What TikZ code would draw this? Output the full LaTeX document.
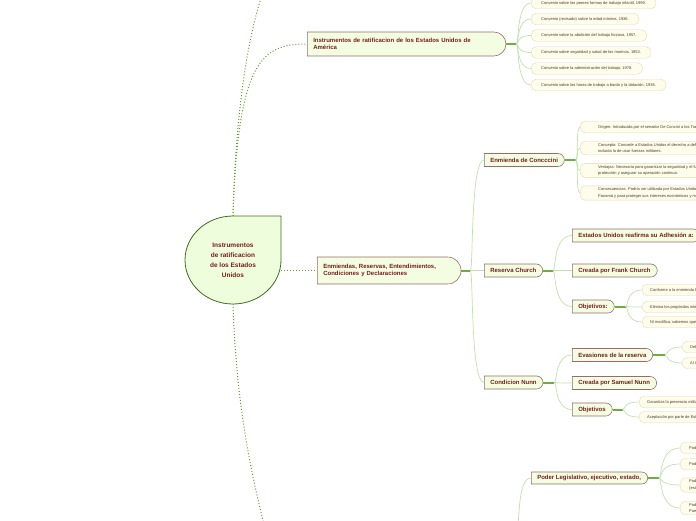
\documentclass[tikz,border=0pt]{standalone}
\usepackage{fontspec}
\setmainfont{Liberation Sans}
\usetikzlibrary{positioning,shapes.misc,calc}
\definecolor{rootfill}{HTML}{EEFDDC}
\definecolor{rootline}{HTML}{3F6E22}
\definecolor{topicfill}{HTML}{F2FDE2}
\definecolor{topicline}{HTML}{9A6B6A}
\definecolor{topictext}{HTML}{7A1E1E}
\definecolor{leaffill}{HTML}{FEFCEA}
\definecolor{leafline}{HTML}{E6DBB4}
\definecolor{leaftext}{HTML}{4E3B2A}
\definecolor{stemgreen}{HTML}{6FAE3C}
\definecolor{twiggreen}{HTML}{C2DFAC}
\definecolor{dotgreen}{HTML}{5E9E2E}

\tikzset{
  rootbox/.style={minimum width=96pt, minimum height=88pt, align=center, text=topictext, font=\bfseries\fontsize{6.5}{10}\selectfont},
  topic/.style={rounded rectangle, rounded rectangle left arc=none, draw=topicline, line width=0.6pt, fill=topicfill, text=topictext, font=\bfseries\fontsize{6}{7.6}\selectfont, align=left, anchor=west, inner xsep=6pt, inner ysep=2pt, minimum height=13pt},
  leaf/.style={draw=leafline, fill=leaffill, rounded corners=5pt, text=leaftext, font=\fontsize{4}{6.6}\selectfont, align=left, anchor=west, inner xsep=10pt, inner ysep=2pt, minimum height=11.5pt},
  stem/.style={draw=stemgreen, line width=2pt},
  twig/.style={draw=twiggreen, line width=0.7pt, to path={.. controls ([xshift=3pt]\tikztostart) and (\tikztostart |- \tikztotarget) .. (\tikztotarget)}},
  dotlink/.style={draw=dotgreen, line width=1pt, dotted},
}

\begin{document}
\begin{tikzpicture}[x=1pt, y=-1pt]
  \clip (0,0) rectangle (696,520);

  % central topic
  \draw[draw=rootline, fill=rootfill, line width=0.8pt] (233,216) -- (281,216) -- (281,260) arc[start angle=0, end angle=-270, x radius=48pt, y radius=44pt] -- cycle;
  \node[rootbox] (root) at (233,260) {Instrumentos\\de ratificacion\\de los Estados\\Unidos};

  % main branches
  \node[topic, text width=185pt, minimum height=24pt] (instr) at (307,44) {Instrumentos de ratificacion de los Estados Unidos de\\Am\'erica};
  \node[topic, text width=130pt, minimum height=27pt] (enm) at (317,270.5) {Enmiendas, Reservas, Entendimientos,\\Condiciones y Declaraciones};
  \coordinate (upper) at (263,-8);
  \coordinate (lower) at (265,528);
  \coordinate (lowhub) at (517,526);

  \draw[dotlink] (root.north) .. controls (236,100) and (250,30) .. (upper);
  \draw[dotlink] (root.north) .. controls (238,60) and (262,44) .. (instr.west);
  \draw[dotlink] (root.east |- enm.west) -- (enm.west);
  \draw[dotlink] (root.south) .. controls (236,400) and (250,470) .. (lower);

  % convenios
  \coordinate (jI) at ([xshift=10pt]instr.east);
  \node[leaf] (a1) at (531,3) {Convenio sobre las peores formas de trabajo infantil, 1999.};
  \node[leaf] (a2) at (531,19) {Convenio (revisado) sobre la edad m\'inima, 1936.};
  \node[leaf] (a3) at (531,35.5) {Convenio sobre la abolici\'on del trabajo forzoso, 1957.};
  \node[leaf] (a4) at (531,52.5) {Convenio sobre seguridad y salud de los marinos, 1953.};
  \node[leaf] (a5) at (531,68.5) {Convenio sobre la administraci\'on del trabajo, 1978.};
  \node[leaf] (a6) at (531,85) {Convenio sobre las horas de trabajo a bordo y la dotaci\'on, 1936.};
  \draw[stem] (instr.east) -- (jI);
  \foreach \n in {a1,a2,a3,a4,a5,a6}
    \draw[twig] (jI) to (\n.west);

  % enmiendas
  \coordinate (jE) at ([xshift=9pt]enm.east);
  \node[topic] (conc) at (484,160) {Enmienda de Concccini};
  \node[topic] (church) at (484,270.5) {Reserva Church};
  \node[topic] (nunn) at (484,382.5) {Condicion Nunn};
  \draw[stem] (enm.east) -- (jE);
  \draw[twig] (jE) to (conc.west);
  \draw[twig] (jE) to (church.west);
  \draw[twig] (jE) to (nunn.west);

  % Concccini
  \coordinate (jC) at ([xshift=11pt]conc.east);
  \node[leaf, inner xsep=18pt] (k1) at (580,127) {Origen: Introducida por el senador De Concini a los Tratados};
  \node[leaf, inner xsep=18pt] (k2) at (580,148) {Concepto: Concede a Estados Unidos el derecho a defender el Canal,\\incluida la de usar fuerzas militares.};
  \node[leaf, inner xsep=18pt] (k3) at (580,170.5) {Ventajas: Necesaria para garantizar la seguridad y el funcionamiento,\\protecci\'on y asegurar su operaci\'on continua.};
  \node[leaf, inner xsep=18pt] (k4) at (580,193) {Consecuencias: Podr\'ia ser utilizada por Estados Unidos para intervenir en\\Panam\'a y para proteger sus intereses econ\'omicos y militares.};
  \draw[stem] (conc.east) -- (jC);
  \foreach \n in {k1,k2,k3,k4}
    \draw[twig] (jC) to (\n.west);

  % Church
  \coordinate (jR) at ([xshift=10pt]church.east);
  \node[topic] (adh) at (572,235.5) {Estados Unidos reafirma su Adhesi\'on a:};
  \node[topic] (frank) at (572,270.5) {Creada por Frank Church};
  \node[topic] (objc) at (572,306.5) {Objetivos:};
  \draw[stem] (church.east) -- (jR);
  \foreach \n in {adh,frank,objc}
    \draw[twig] (jR) to (\n.west);
  \coordinate (jO) at ([xshift=11pt]objc.east);
  \node[leaf, inner xsep=8pt] (c1) at (642,290) {Conforme a la enmienda DeConcini};
  \node[leaf, inner xsep=8pt] (c2) at (642,307) {Elimina los prop\'ositos intervencionistas};
  \node[leaf, inner xsep=8pt] (c3) at (642,322) {Ni modifica, sabemos que no};
  \draw[stem] (objc.east) -- (jO);
  \foreach \n in {c1,c2,c3}
    \draw[twig] (jO) to (\n.west);

  % Nunn
  \coordinate (jN) at ([xshift=11pt]nunn.east);
  \node[topic] (eva) at (572,355) {Evasiones de la reserva};
  \node[topic] (sam) at (572,383) {Creada por Samuel Nunn};
  \node[topic] (objn) at (572,409.5) {Objetivos};
  \draw[stem] (nunn.east) -- (jN);
  \foreach \n in {eva,sam,objn}
    \draw[twig] (jN) to (\n.west);
  \coordinate (jV) at ([xshift=12pt]eva.east);
  \node[leaf, inner xsep=8pt] (e1) at (682,347) {Debe entenderse};
  \node[leaf, inner xsep=8pt] (e2) at (682,363) {Al tratado};
  \draw[stem] (eva.east) -- (jV);
  \foreach \n in {e1,e2}
    \draw[twig] (jV) to (\n.west);
  \coordinate (jW) at ([xshift=10pt]objn.east);
  \node[leaf, inner xsep=8pt] (n1) at (639,402) {Garantiza la presencia militar};
  \node[leaf, inner xsep=8pt] (n2) at (639,417) {Aceptaci\'on por parte de Estados Unidos};
  \draw[stem] (objn.east) -- (jW);
  \foreach \n in {n1,n2}
    \draw[twig] (jW) to (\n.west);

  % poderes
  \node[topic, minimum height=12pt] (poder) at (531,478) {Poder Legislativo, ejecutivo, estado,};
  \draw[twig] (lowhub) to (poder.west);
  \coordinate (jP) at ([xshift=11pt]poder.east);
  \node[leaf, inner xsep=9pt] (p1) at (680,448) {Poder Legislativo};
  \node[leaf, inner xsep=9pt] (p2) at (680,464) {Poder Ejecutivo};
  \node[leaf, inner xsep=9pt] (p3) at (680,485) {Poder\\(estado)};
  \node[leaf, inner xsep=9pt] (p4) at (680,508) {Poder\\Pueblo};
  \draw[stem] (poder.east) -- (jP);
  \foreach \n in {p1,p2,p3,p4}
    \draw[twig] (jP) to (\n.west);
\end{tikzpicture}
\end{document}
